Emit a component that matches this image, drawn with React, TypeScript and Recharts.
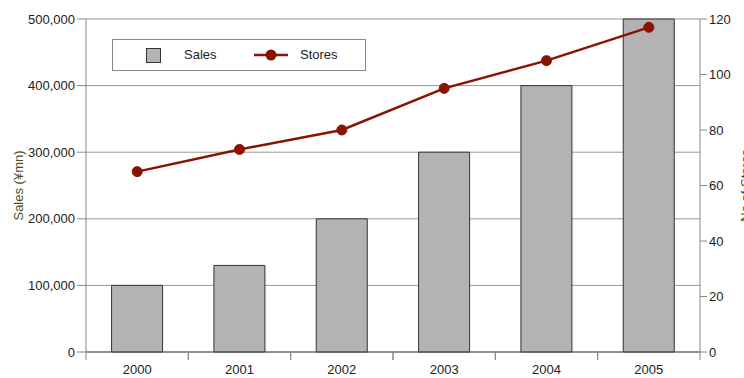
import {
  Bar,
  CartesianGrid,
  ComposedChart,
  Line,
  XAxis,
  YAxis,
} from "recharts";

const years = ["2000", "2001", "2002", "2003", "2004", "2005"];
const sales = [100000, 130000, 200000, 300000, 400000, 500000];
const stores = [65, 73, 80, 95, 105, 117];
const salesTicks = [0, 100000, 200000, 300000, 400000, 500000];
const storeTicks = [0, 20, 40, 60, 80, 100, 120];

const data = years.map((year, i) => ({
  year,
  sales: sales[i],
  stores: stores[i],
}));

const FONT = "'Liberation Sans', Arial, Helvetica, sans-serif";
const WIDTH = 744;
const HEIGHT = 378;
const LEFT = 86;
const RIGHT = 44;
const BAND = (WIDTH - LEFT - RIGHT) / years.length;
const LINE_COLOR = "#8b1200";
const AXIS_COLOR = "#888";

function YearTick({ x, y, payload }: any) {
  return (
    <g>
      <line x1={x - BAND / 2} x2={x - BAND / 2} y1={y} y2={y + 8} stroke={AXIS_COLOR} />
      <line x1={x + BAND / 2} x2={x + BAND / 2} y1={y} y2={y + 8} stroke={AXIS_COLOR} />
      <text x={x} y={y + 22} textAnchor="middle" fontSize={13} fill="#222" fontFamily={FONT}>
        {payload.value}
      </text>
    </g>
  );
}

function SideLabel({ viewBox, value, dx }: any) {
  const cx = viewBox.x + dx;
  const cy = viewBox.y + viewBox.height / 2;
  return (
    <text
      x={cx}
      y={cy}
      transform={`rotate(-90 ${cx} ${cy})`}
      textAnchor="middle"
      dominantBaseline="central"
      fontSize={13}
      fill="#4d4d1f"
      fontFamily={FONT}
    >
      {value}
    </text>
  );
}

function LegendBox() {
  return (
    <div
      style={{
        position: "absolute",
        left: 112,
        top: 39,
        width: 252,
        height: 30,
        border: `1px solid ${AXIS_COLOR}`,
        background: "#fff",
        fontFamily: FONT,
        fontSize: 13,
        color: "#222",
      }}
    >
      <div
        style={{
          position: "absolute",
          left: 33,
          top: 8,
          width: 13,
          height: 13,
          background: "#b3b3b3",
          border: "1px solid #333",
        }}
      />
      <span style={{ position: "absolute", left: 71, top: 7 }}>Sales</span>
      <svg width={34} height={14} style={{ position: "absolute", left: 141, top: 8 }}>
        <line x1={0} x2={34} y1={7} y2={7} stroke={LINE_COLOR} strokeWidth={2.5} />
        <circle cx={17} cy={7} r={5.5} fill={LINE_COLOR} />
      </svg>
      <span style={{ position: "absolute", left: 187, top: 7 }}>Stores</span>
    </div>
  );
}

export default function App() {
  return (
    <div style={{ position: "absolute", left: 0, top: 0, width: WIDTH, height: HEIGHT }}>
      <ComposedChart
        width={WIDTH}
        height={HEIGHT}
        data={data}
        margin={{ top: 19, right: 0, bottom: 0, left: 0 }}
        barCategoryGap="25%"
      >
        <CartesianGrid yAxisId="left" vertical={false} stroke="#999" />
        <XAxis
          dataKey="year"
          height={26}
          tickLine={false}
          tickSize={0}
          tickMargin={0}
          axisLine={{ stroke: "#555" }}
          tick={<YearTick />}
          interval={0}
        />
        <YAxis
          yAxisId="left"
          width={LEFT}
          domain={[0, 500000]}
          ticks={salesTicks}
          tickSize={9}
          tickMargin={2}
          tickLine={{ stroke: AXIS_COLOR }}
          axisLine={{ stroke: AXIS_COLOR }}
          tickFormatter={(v: number) => v.toLocaleString("en-US")}
          tick={{ fontSize: 13, fill: "#222", fontFamily: FONT }}
          label={<SideLabel value="Sales (¥mn)" dx={18} />}
        />
        <YAxis
          yAxisId="right"
          orientation="right"
          width={RIGHT}
          domain={[0, 120]}
          ticks={storeTicks}
          tickSize={7}
          tickMargin={2}
          tickLine={{ stroke: AXIS_COLOR }}
          axisLine={{ stroke: AXIS_COLOR }}
          tick={{ fontSize: 13, fill: "#222", fontFamily: FONT }}
          label={<SideLabel value="No of Stores" dx={45} />}
        />
        <Bar
          yAxisId="left"
          dataKey="sales"
          name="Sales"
          fill="#b3b3b3"
          stroke="#333"
          strokeWidth={1}
          isAnimationActive={false}
        />
        <Line
          yAxisId="right"
          dataKey="stores"
          name="Stores"
          stroke={LINE_COLOR}
          strokeWidth={2.5}
          dot={{ r: 5, fill: LINE_COLOR, stroke: LINE_COLOR, strokeWidth: 1 }}
          activeDot={false}
          isAnimationActive={false}
        />
      </ComposedChart>
      <LegendBox />
    </div>
  );
}
